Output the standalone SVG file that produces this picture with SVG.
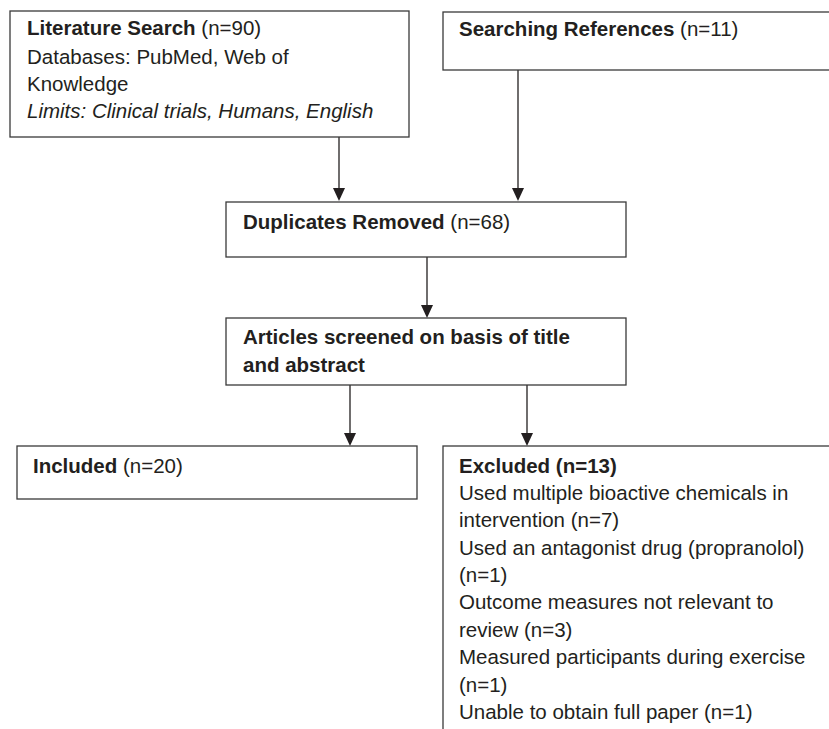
<svg xmlns="http://www.w3.org/2000/svg" width="829" height="729" viewBox="0 0 829 729">
<defs>
<style>
.box{fill:#fff;stroke:#3a3a3a;stroke-width:1.3}
.t{font-family:"Liberation Sans",Arial,sans-serif;font-size:20.5px;fill:#231f20}
.b{font-weight:bold}
.i{font-style:italic}
.c{stroke:#231f20;stroke-width:1.3;fill:none}
.h{fill:#231f20}
</style>
</defs>
<rect width="829" height="729" fill="#fff"/>
<g id="connectors">
<line class="c" x1="339" y1="137" x2="339" y2="188"/>
<path class="h" d="M333,188 L345,188 L339,201 Z"/>
<line class="c" x1="518" y1="70" x2="518" y2="188"/>
<path class="h" d="M512,188 L524,188 L518,201 Z"/>
<line class="c" x1="427" y1="257" x2="427" y2="305"/>
<path class="h" d="M421,305 L433,305 L427,318 Z"/>
<line class="c" x1="350" y1="385" x2="350" y2="433"/>
<path class="h" d="M344,433 L356,433 L350,446 Z"/>
<line class="c" x1="527" y1="385" x2="527" y2="433"/>
<path class="h" d="M521,433 L533,433 L527,446 Z"/>
</g>
<g id="literature-search">
<rect class="box" x="10" y="11" width="399" height="126"/>
<text class="t" x="27" y="35"><tspan class="b">Literature Search</tspan> (n=90)</text>
<text class="t" x="27" y="64">Databases: PubMed, Web of</text>
<text class="t" x="27" y="91">Knowledge</text>
<text class="t i" x="27" y="118">Limits: Clinical trials, Humans, English</text>
</g>
<g id="searching-references">
<rect class="box" x="443" y="12" width="400" height="58"/>
<text class="t" x="459" y="36"><tspan class="b">Searching References</tspan> (n=11)</text>
</g>
<g id="duplicates-removed">
<rect class="box" x="226" y="202" width="400" height="55"/>
<text class="t" x="243" y="229"><tspan class="b">Duplicates Removed</tspan> (n=68)</text>
</g>
<g id="articles-screened">
<rect class="box" x="226" y="318" width="400" height="67"/>
<text class="t b" x="243" y="344">Articles screened on basis of title</text>
<text class="t b" x="243" y="372">and abstract</text>
</g>
<g id="included">
<rect class="box" x="17" y="446" width="400" height="53"/>
<text class="t" x="33" y="473"><tspan class="b">Included</tspan> (n=20)</text>
</g>
<g id="excluded">
<rect class="box" x="443" y="446" width="400" height="300"/>
<text class="t b" x="459" y="473">Excluded (n=13)</text>
<text class="t" x="459" y="500">Used multiple bioactive chemicals in</text>
<text class="t" x="459" y="527">intervention (n=7)</text>
<text class="t" x="459" y="555">Used an antagonist drug (propranolol)</text>
<text class="t" x="459" y="582">(n=1)</text>
<text class="t" x="459" y="609">Outcome measures not relevant to</text>
<text class="t" x="459" y="637">review (n=3)</text>
<text class="t" x="459" y="664">Measured participants during exercise</text>
<text class="t" x="459" y="692">(n=1)</text>
<text class="t" x="459" y="719">Unable to obtain full paper (n=1)</text>
</g>
</svg>
